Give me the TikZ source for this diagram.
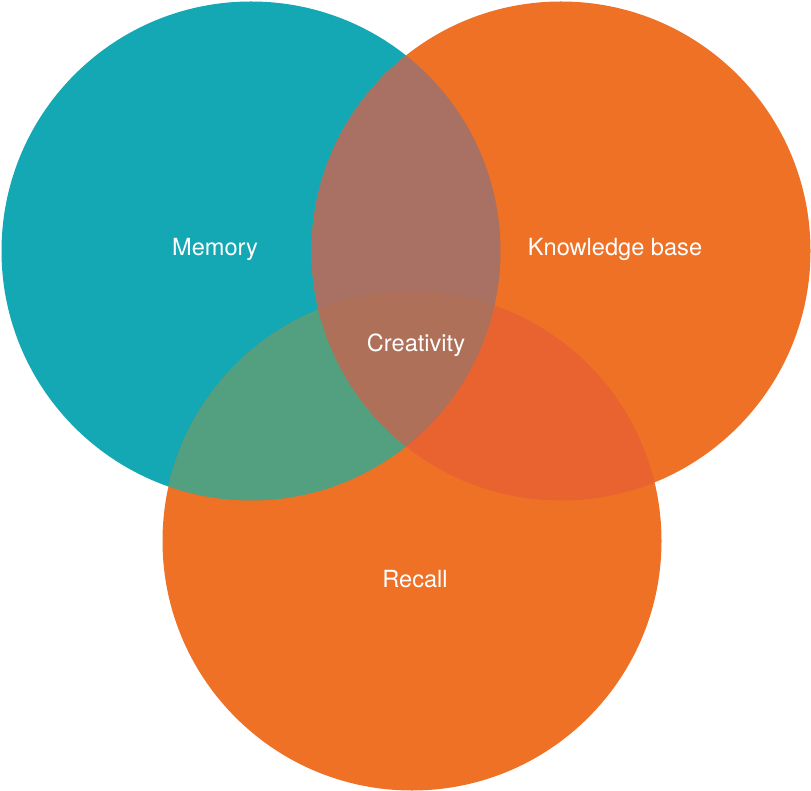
\documentclass[tikz,border=0pt]{standalone}
\usepackage{fontspec}
\setmainfont{TeX Gyre Heros}
\definecolor{tealset}{HTML}{13A8B4}
\definecolor{orangeset}{HTML}{EE7126}
\definecolor{memknow}{HTML}{A97064}
\definecolor{memrec}{HTML}{52A07F}
\definecolor{knowrec}{HTML}{E96331}
\definecolor{allthree}{HTML}{AE7058}
\tikzstyle{set} = [draw=none, circle, inner sep=0pt, minimum size=499pt]
\tikzstyle{lbl} = [text=white, font=\fontsize{23.6}{28}\selectfont]

\begin{document}
\begin{tikzpicture}[x=1pt, y=-1pt]
    \useasboundingbox (0,0) rectangle (811,791);
    % sets
    \node [set, fill=tealset, name=memory] at (251,251) {};
    \node [set, fill=orangeset, name=knowledge] at (561,251) {};
    \node [set, fill=orangeset, name=recall] at (412,541) {};
    % overlaps
    \begin{scope}
        \clip (memory.center) circle (249.5pt);
        \fill [memknow] (knowledge.center) circle (249.5pt);
        \fill [memrec] (recall.center) circle (249.5pt);
    \end{scope}
    \begin{scope}
        \clip (knowledge.center) circle (249.5pt);
        \fill [knowrec] (recall.center) circle (249.5pt);
        \clip (memory.center) circle (249.5pt);
        \fill [allthree] (recall.center) circle (249.5pt);
    \end{scope}
    % labels
    \node [lbl, name=memlbl] at (215,249) {Memory};
    \node [lbl, name=knowlbl] at (615,249) {Knowledge base};
    \node [lbl, name=creatlbl] at (416,345) {Creativity};
    \node [lbl, name=reclbl] at (415,579) {Recall};
\end{tikzpicture}
\end{document}
